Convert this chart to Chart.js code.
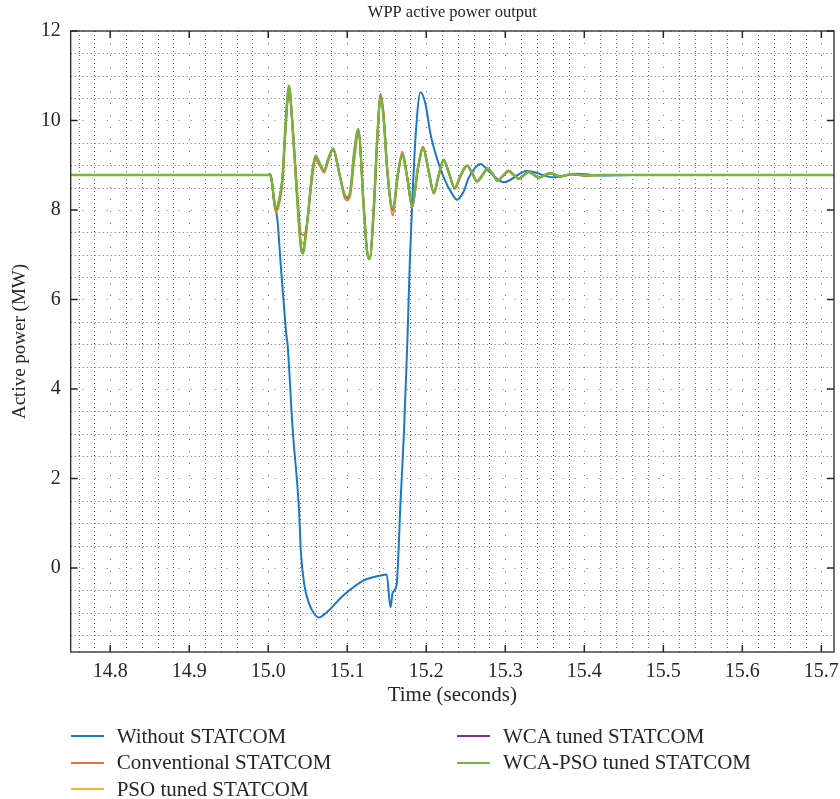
<!DOCTYPE html>
<html lang="en">
<head>
<meta charset="UTF-8">
<title>WPP active power output</title>
<script src="https://cdn.jsdelivr.net/npm/chart.js"></script>
<style>
    body { margin: 0; background: #fff; }
    #wrap { position: relative; width: 840px; height: 799px; }
    .legend-item {
        position: absolute;
        display: flex;
        align-items: center;
        height: 24px;
        font-family: "Liberation Serif", serif;
        font-size: 21px;
        color: #262626;
        white-space: nowrap;
    }
    .legend-line { width: 33px; height: 2px; margin-right: 13px; }
</style>
</head>
<body>
<div id="wrap">
    <canvas id="chart" width="840" height="799"></canvas>
</div>
<script>
// axis ticks
const xTicks = [14.8, 14.9, 15.0, 15.1, 15.2, 15.3, 15.4, 15.5, 15.6, 15.7];
const yTicks = [0, 2, 4, 6, 8, 10, 12];
const xMin = 14.75, xMax = 15.716;
const yMin = -1.88, yMax = 12;

// Without STATCOM (own time base)
const tWithout = [
    14.75, 15.000, 15.002, 15.004, 15.008, 15.0117, 15.0159, 15.0220, 15.0235, 15.0244,
    15.0307, 15.0390, 15.0412, 15.0454, 15.0517, 15.0580, 15.0643, 15.0700, 15.0790, 15.0900,
    15.1000, 15.1210, 15.1422, 15.1498, 15.1548, 15.1575, 15.1624, 15.1675, 15.1717, 15.1760,
    15.1792, 15.1822, 15.1864, 15.1927, 15.1990, 15.2053, 15.2137, 15.2220, 15.2327, 15.2390,
    15.2470, 15.2540, 15.2685, 15.2800, 15.2980, 15.3275, 15.3610, 15.3900, 15.4200, 15.4600,
    15.716
];
const pWithout = [
    8.78, 8.78, 8.80, 8.70, 8.15, 7.77, 6.75, 5.38, 5.12, 5.01,
    3.15, 1.28, 0.39, -0.35, -0.80, -1.02, -1.11, -1.05, -0.91, -0.70,
    -0.54, -0.28, -0.17, -0.145, -0.88, -0.55, -0.39, 1.51, 3.00, 5.01,
    6.87, 8.14, 9.63, 10.63, 10.37, 9.70, 9.14, 8.73, 8.36, 8.23,
    8.40, 8.73, 9.03, 8.85, 8.62, 8.87, 8.73, 8.81, 8.77, 8.78,
    8.78
];

// time base shared by the four STATCOM cases
const tStatcom = [
    14.75, 15.000, 15.002, 15.004, 15.0096, 15.014, 15.018, 15.0222, 15.0264, 15.0300,
    15.0370, 15.0412, 15.0441, 15.0470, 15.0496, 15.0559, 15.0601, 15.0650, 15.0706, 15.0760,
    15.0820, 15.0900, 15.0965, 15.1000, 15.1040, 15.1085, 15.1140, 15.1210, 15.1250, 15.1283,
    15.1338, 15.1380, 15.1422, 15.1460, 15.1506, 15.1577, 15.1640, 15.1696, 15.1760, 15.1822,
    15.1890, 15.1960, 15.2030, 15.2095, 15.2160, 15.2220, 15.2290, 15.2360, 15.2440, 15.2517,
    15.2580, 15.2643, 15.2710, 15.2777, 15.2840, 15.2900, 15.2970, 15.3040, 15.3105, 15.3170,
    15.3230, 15.3295, 15.3360, 15.3420, 15.3500, 15.3570, 15.3700, 15.3840, 15.4000, 15.4200,
    15.716
];
const pConventional = [
    8.78, 8.78, 8.80, 8.68, 7.95, 8.15, 8.62, 9.85, 10.70, 10.10,
    8.35, 7.48, 7.44, 7.50, 7.75, 8.75, 9.12, 9.00, 8.84, 9.10,
    9.34, 8.82, 8.28, 8.22, 8.35, 9.05, 9.70, 8.10, 7.05, 6.90,
    8.00, 9.55, 10.60, 10.15, 8.95, 7.88, 8.75, 9.30, 8.75, 8.05,
    8.85, 9.42, 8.90, 8.36, 8.78, 9.13, 8.82, 8.47, 8.78, 9.00,
    8.84, 8.63, 8.77, 8.93, 8.81, 8.65, 8.76, 8.88, 8.79, 8.69,
    8.77, 8.86, 8.79, 8.72, 8.78, 8.82, 8.75, 8.80, 8.77, 8.78,
    8.78
];
const pPso = [
    8.78, 8.78, 8.80, 8.69, 7.99, 8.20, 8.68, 9.92, 10.74, 10.08,
    8.25, 7.32, 7.25, 7.42, 7.76, 8.82, 9.17, 9.03, 8.86, 9.12,
    9.35, 8.81, 8.31, 8.25, 8.40, 9.15, 9.75, 8.05, 7.08, 6.90,
    8.07, 9.59, 10.56, 10.10, 8.91, 7.95, 8.78, 9.26, 8.72, 8.07,
    8.87, 9.40, 8.87, 8.38, 8.79, 9.12, 8.81, 8.48, 8.79, 8.99,
    8.83, 8.64, 8.77, 8.92, 8.80, 8.66, 8.76, 8.87, 8.79, 8.70,
    8.77, 8.85, 8.79, 8.72, 8.78, 8.82, 8.75, 8.80, 8.77, 8.78,
    8.78
];
const pWca = [
    8.78, 8.78, 8.80, 8.70, 8.01, 8.23, 8.71, 9.97, 10.77, 10.06,
    8.18, 7.22, 7.08, 7.38, 7.77, 8.86, 9.20, 9.04, 8.87, 9.14,
    9.36, 8.81, 8.33, 8.27, 8.43, 9.22, 9.79, 8.01, 7.09, 6.91,
    8.12, 9.61, 10.54, 10.07, 8.89, 8.00, 8.79, 9.24, 8.71, 8.09,
    8.89, 9.38, 8.86, 8.39, 8.80, 9.11, 8.80, 8.49, 8.80, 8.99,
    8.82, 8.64, 8.78, 8.92, 8.80, 8.66, 8.76, 8.87, 8.79, 8.70,
    8.77, 8.85, 8.79, 8.72, 8.78, 8.82, 8.75, 8.80, 8.77, 8.78,
    8.78
];
const pWcaPso = [
    8.78, 8.78, 8.80, 8.70, 8.03, 8.25, 8.73, 10.00, 10.78, 10.05,
    8.14, 7.17, 7.02, 7.35, 7.77, 8.88, 9.22, 9.05, 8.88, 9.15,
    9.37, 8.81, 8.35, 8.29, 8.45, 9.26, 9.81, 7.99, 7.10, 6.91,
    8.14, 9.63, 10.52, 10.05, 8.88, 8.03, 8.80, 9.22, 8.70, 8.10,
    8.90, 9.37, 8.85, 8.40, 8.80, 9.11, 8.80, 8.50, 8.80, 8.99,
    8.82, 8.64, 8.78, 8.92, 8.80, 8.66, 8.76, 8.87, 8.79, 8.70,
    8.77, 8.85, 8.79, 8.72, 8.78, 8.82, 8.75, 8.80, 8.77, 8.78,
    8.78
];

const labels = ["Without STATCOM", "Conventional STATCOM", "PSO tuned STATCOM", "WCA tuned STATCOM", "WCA-PSO tuned STATCOM"];
const colors = ["#1a78c8", "#ec6f3c", "#f2b43c", "#7e2f8e", "#77b63c"];

const FONT = "Liberation Serif";
const INK = "#262626";

function pairs(t, p) {
    return t.map((v, i) => ({ x: v, y: p[i] }));
}

function series(i, t, p, order) {
    return {
        label: labels[i],
        data: pairs(t, p),
        borderColor: colors[i],
        backgroundColor: colors[i],
        borderWidth: i === 4 ? 2.4 : 2,
        pointRadius: 0,
        fill: false,
        cubicInterpolationMode: "monotone",
        order: order
    };
}

// dotted MATLAB-like grid, box and inward tick marks
const matlabAxes = {
    id: "matlabAxes",
    beforeDatasetsDraw(chart) {
        const { ctx, chartArea: a, scales: { x, y } } = chart;
        const vline = (px, dash) => {
            ctx.setLineDash(dash);
            ctx.beginPath(); ctx.moveTo(px, a.top); ctx.lineTo(px, a.bottom); ctx.stroke();
        };
        const hline = (py, dash) => {
            ctx.setLineDash(dash);
            ctx.beginPath(); ctx.moveTo(a.left, py); ctx.lineTo(a.right, py); ctx.stroke();
        };
        ctx.save();
        ctx.beginPath();
        ctx.rect(a.left, a.top, a.right - a.left, a.bottom - a.top);
        ctx.clip();
        ctx.strokeStyle = "#6e6e6e";
        ctx.lineWidth = 1;
        for (let k = Math.ceil(xMin / 0.02); k * 0.02 <= xMax + 1e-9; k++) {
            const px = Math.round(x.getPixelForValue(k * 0.02)) + 0.5;
            vline(px, k % 5 === 0 ? [1, 11] : [1, 3]);
        }
        for (let k = Math.ceil(yMin / 0.5); k * 0.5 <= yMax + 1e-9; k++) {
            const py = Math.round(y.getPixelForValue(k * 0.5)) + 0.5;
            hline(py, k % 4 === 0 ? [1, 11] : [1, 3]);
        }
        ctx.restore();
    },
    afterDatasetsDraw(chart) {
        const { ctx, chartArea: a, scales: { x, y } } = chart;
        ctx.save();
        ctx.strokeStyle = INK;
        ctx.lineWidth = 1.3;
        ctx.setLineDash([]);
        ctx.strokeRect(a.left, a.top, a.right - a.left, a.bottom - a.top);
        ctx.lineWidth = 1.5;
        ctx.beginPath();
        xTicks.forEach(v => {
            const px = x.getPixelForValue(v);
            ctx.moveTo(px, a.bottom); ctx.lineTo(px, a.bottom - 7);
            ctx.moveTo(px, a.top); ctx.lineTo(px, a.top + 7);
        });
        yTicks.forEach(v => {
            const py = y.getPixelForValue(v);
            ctx.moveTo(a.left, py); ctx.lineTo(a.left + 7, py);
            ctx.moveTo(a.right, py); ctx.lineTo(a.right - 7, py);
        });
        ctx.stroke();
        ctx.restore();
    }
};

const chart = new Chart(document.getElementById("chart"), {
    type: "line",
    data: {
        datasets: [
            series(0, tWithout, pWithout, 4),
            series(1, tStatcom, pConventional, 3),
            series(2, tStatcom, pPso, 2),
            series(3, tStatcom, pWca, 1),
            series(4, tStatcom, pWcaPso, 0)
        ]
    },
    options: {
        responsive: false,
        animation: false,
        devicePixelRatio: 1,
        layout: { padding: { left: 0, right: 6, top: 0, bottom: 85 } },
        plugins: {
            legend: { display: false },
            tooltip: { enabled: false },
            title: {
                display: true,
                fullSize: false,
                text: "WPP active power output",
                color: INK,
                font: { family: FONT, size: 16.5, weight: "normal" },
                padding: { top: 3, bottom: 8.2 }
            }
        },
        scales: {
            x: {
                type: "linear",
                min: xMin,
                max: xMax,
                grid: { display: false, drawTicks: false },
                border: { display: false },
                afterBuildTicks: s => { s.ticks = xTicks.map(v => ({ value: v })); },
                afterFit: s => { s.height = 62; s.paddingLeft = 0; s.paddingRight = 0; },
                ticks: {
                    color: INK,
                    padding: 8,
                    maxRotation: 0,
                    font: { family: FONT, size: 20 },
                    callback: v => Number(v).toFixed(1)
                },
                title: {
                    display: true,
                    text: "Time (seconds)",
                    color: INK,
                    font: { family: FONT, size: 21 },
                    padding: { top: 0, bottom: 6 }
                }
            },
            y: {
                type: "linear",
                min: yMin,
                max: yMax,
                grid: { display: false, drawTicks: false },
                border: { display: false },
                afterBuildTicks: s => { s.ticks = yTicks.map(v => ({ value: v })); },
                afterFit: s => { s.width = 70.7; s.paddingTop = 0; s.paddingBottom = 0; },
                ticks: {
                    color: INK,
                    padding: 10,
                    font: { family: FONT, size: 20 },
                    callback: v => String(v)
                },
                title: {
                    display: true,
                    text: "Active power (MW)",
                    color: INK,
                    font: { family: FONT, size: 19 },
                    padding: { top: 8.6, bottom: 0 }
                }
            }
        }
    },
    plugins: [matlabAxes]
});

// two-column legend below the axes, filled column by column
const slots = [
    { left: 70.7, top: 724 }, { left: 70.7, top: 750.5 }, { left: 70.7, top: 777 },
    { left: 457, top: 724 }, { left: 457, top: 750.5 }
];
const wrap = document.getElementById("wrap");
chart.data.datasets.forEach((ds, i) => {
    const item = document.createElement("div");
    item.className = "legend-item";
    item.style.left = slots[i].left + "px";
    item.style.top = slots[i].top + "px";
    const line = document.createElement("span");
    line.className = "legend-line";
    line.style.background = ds.borderColor;
    const text = document.createElement("span");
    text.textContent = ds.label;
    item.appendChild(line);
    item.appendChild(text);
    wrap.appendChild(item);
});
</script>
</body>
</html>
